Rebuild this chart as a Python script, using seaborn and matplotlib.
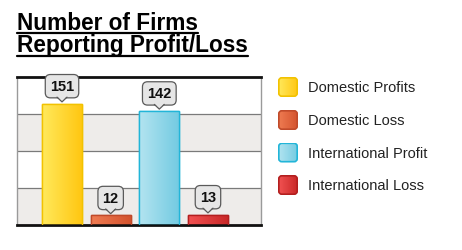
import numpy as np
import pandas as pd
import matplotlib
matplotlib.use("Agg")
import matplotlib.pyplot as plt
import seaborn as sns
from matplotlib.colors import LinearSegmentedColormap
from matplotlib.patches import FancyBboxPatch, Polygon
from matplotlib.lines import Line2D

# -------------------------
# Data
# -------------------------
categories = ["Domestic Profits", "Domestic Loss", "International Profit", "International Loss"]
values = [151, 12, 142, 13]
title_lines = ["Number of Firms", "Reporting Profit/Loss"]

# left / right shade of each bar gradient, plus edge colour
light_cols = ["#ffe95c", "#ef7c52", "#b3e4f0", "#f25252"]
dark_cols = ["#ffc712", "#d4532e", "#74cbe2", "#c92828"]
edge_cols = ["#f2c200", "#c04a2a", "#22b5d8", "#b31f1f"]

df = pd.DataFrame({"category": categories, "value": values})

sns.set_style("white")
plt.rcParams["font.family"] = ["Liberation Sans", "DejaVu Sans"]

W, H = 462, 251
fig = plt.figure(figsize=(W / 100, H / 100), dpi=100)
fig.patch.set_facecolor("white")

# plot area in pixels: x 17..261, y (from top) 78..226
ax = fig.add_axes([17 / W, (H - 226) / H, 244 / W, 148 / H])

ymax = 184
bands = [0, 46, 92, 138, ymax]
for i in range(4):
    ax.axhspan(bands[i], bands[i + 1], color="#eeecea" if i % 2 == 0 else "white", zorder=0, lw=0)
for g in bands[1:-1]:
    ax.axhline(g, color="#7a7a7a", lw=0.9, zorder=1)

sns.barplot(data=df, x="category", y="value", hue="category", palette=dark_cols,
            width=0.82, legend=False, ax=ax, zorder=2)

bars = [p for c in ax.containers for p in c]

# gradient fill inside each bar
for patch, c0, c1, ec in zip(bars, light_cols, dark_cols, edge_cols):
    x0, y0 = patch.get_x(), patch.get_y()
    w, h = patch.get_width(), patch.get_height()
    cmap = LinearSegmentedColormap.from_list("g", [c0, c1])
    grad = np.linspace(0, 1, 64).reshape(1, -1)
    im = ax.imshow(grad, extent=[x0, x0 + w, y0, y0 + h], cmap=cmap, aspect="auto", zorder=2.5)
    im.set_clip_path(patch)
    patch.set_edgecolor(ec)
    patch.set_linewidth(1.0)
    ax.add_patch(FancyBboxPatch((x0, y0), w, h, boxstyle="square,pad=0", fc="none",
                                ec=ec, lw=1.0, zorder=2.6))

ax.set_xlim(-0.925, 4.09)
ax.set_ylim(0, ymax)

# callout labels with a small pointer
ppx = fig.dpi / 72
for i, v in enumerate(values):
    ax.annotate(str(v), xy=(i, v), xytext=(0, 12.5), textcoords="offset points",
                ha="center", va="center", fontsize=10.5, fontweight="bold", color="#111111",
                bbox=dict(boxstyle="round,pad=0.32,rounding_size=0.35", fc="#e6e6e6",
                          ec="#5a5a5a", lw=0.9), zorder=5, annotation_clip=False)
    base = 4.6
    dx, dy = ax.transData.transform((i, v))
    fill_disp = np.array([[dx - 3.6 * ppx, dy + (base + 0.8) * ppx],
                          [dx, dy + 1.2 * ppx],
                          [dx + 3.6 * ppx, dy + (base + 0.8) * ppx]])
    ax.add_patch(Polygon(ax.transData.inverted().transform(fill_disp), closed=True,
                         fc="#e6e6e6", ec="none", zorder=6, clip_on=False))
    edge_disp = np.array([[dx - 3.6 * ppx, dy + base * ppx],
                          [dx, dy + 1.2 * ppx],
                          [dx + 3.6 * ppx, dy + base * ppx]])
    e = ax.transData.inverted().transform(edge_disp)
    ax.add_line(Line2D(e[:, 0], e[:, 1], color="#5a5a5a", lw=0.9, zorder=6, clip_on=False))

ax.set_xticks([])
ax.set_yticks([])
ax.set_xlabel("")
ax.set_ylabel("")
for side in ["left", "right"]:
    ax.spines[side].set_color("#9a9a9a")
    ax.spines[side].set_linewidth(1.0)
for side in ["top", "bottom"]:
    ax.spines[side].set_color("#111111")
    ax.spines[side].set_linewidth(2.0)

# -------------------------
# Title with underline
# -------------------------
baselines = [30.5, 52]
underlines = [33.5, 57]
fig.canvas.draw()
renderer = fig.canvas.get_renderer()
for line, b, u in zip(title_lines, baselines, underlines):
    t = fig.text(17 / W, (H - b) / H, line, fontsize=16.3, fontweight="bold", color="black",
                 ha="left", va="baseline")
    bb = t.get_window_extent(renderer=renderer)
    fig.add_artist(Line2D([bb.x0 / W, bb.x1 / W], [(H - u) / H] * 2, color="black", lw=1.6,
                          transform=fig.transFigure))

# -------------------------
# Legend
# -------------------------
leg_y = [88, 121, 153.5, 186]
for name, c0, c1, ec, y in zip(categories, light_cols, dark_cols, edge_cols, leg_y):
    lax = fig.add_axes([278 / W, (H - y - 10) / H, 20 / W, 20 / H])
    im = lax.imshow(np.linspace(0, 1, 32).reshape(1, -1), aspect="auto",
                    cmap=LinearSegmentedColormap.from_list("l", [c0, c1]), extent=[0, 1, 0, 1])
    box = FancyBboxPatch((0.04, 0.04), 0.92, 0.92, boxstyle="round,pad=0,rounding_size=0.15",
                         fc="none", ec=ec, lw=1.2, transform=lax.transAxes)
    lax.add_patch(box)
    im.set_clip_path(box)
    lax.set_axis_off()
    fig.text(308 / W, (H - y) / H, name, fontsize=10.5, color="#222222", ha="left", va="center")

plt.savefig("out.png", dpi=100)
plt.close()
